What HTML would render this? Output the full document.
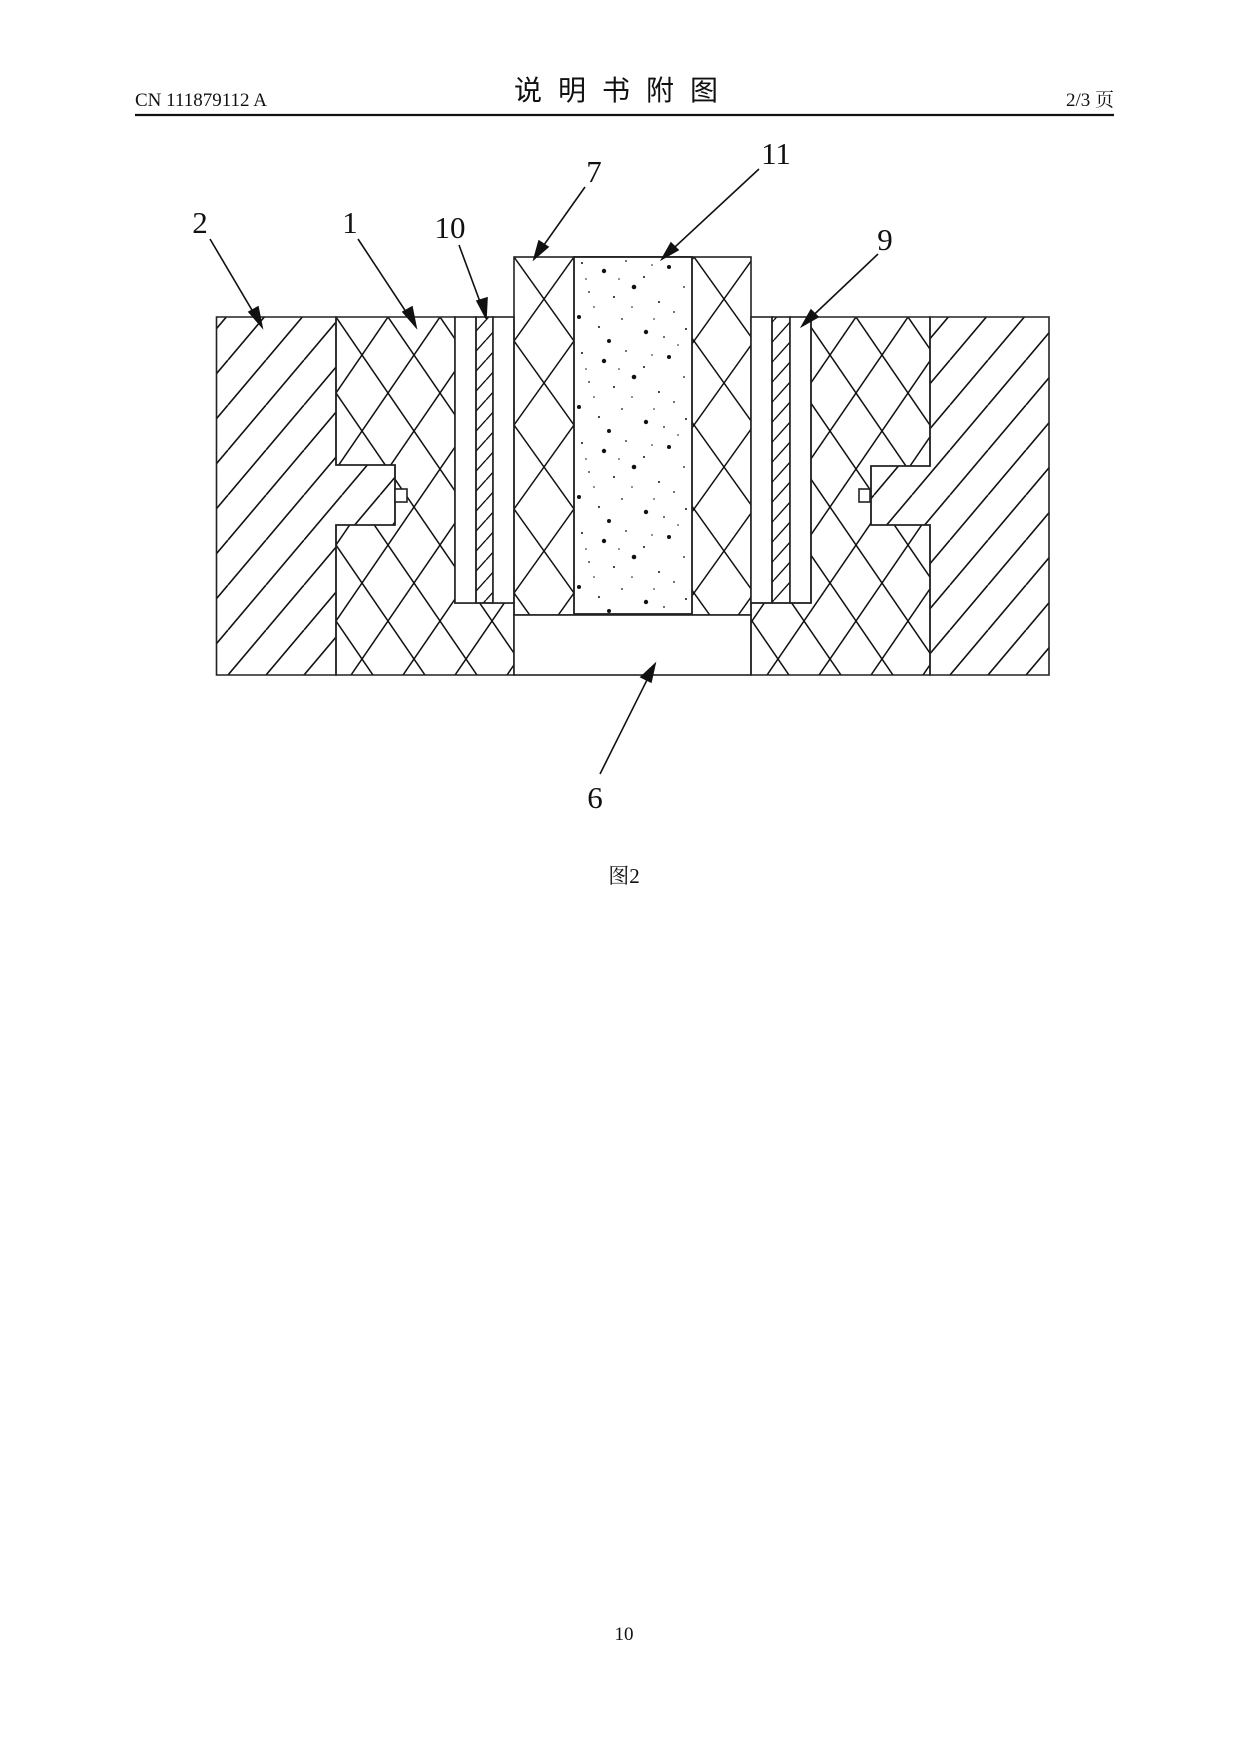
<!DOCTYPE html>
<html><head><meta charset="utf-8"><style>
html,body{margin:0;padding:0;background:#fff;}
svg{display:block;}
text{font-family:"Liberation Serif","Noto Serif CJK SC",serif;fill:#111;}
</style></head><body>
<svg width="1240" height="1754" viewBox="0 0 1240 1754" xmlns="http://www.w3.org/2000/svg">
<defs>
<pattern id="hs" patternUnits="userSpaceOnUse" width="38" height="45">
<line x1="-38" y1="45" x2="0" y2="0" stroke="#111" stroke-width="1.6"/>
<line x1="0" y1="45" x2="38" y2="0" stroke="#111" stroke-width="1.6"/>
<line x1="38" y1="45" x2="76" y2="0" stroke="#111" stroke-width="1.6"/>
</pattern>
<pattern id="cx" patternUnits="userSpaceOnUse" width="52" height="76" x="336" y="317">
<line x1="0" y1="76" x2="52" y2="0" stroke="#111" stroke-width="1.5"/>
<line x1="0" y1="0" x2="52" y2="76" stroke="#111" stroke-width="1.5"/>
</pattern>
<pattern id="cx7" patternUnits="userSpaceOnUse" width="60" height="84" x="514" y="257">
<line x1="0" y1="84" x2="60" y2="0" stroke="#111" stroke-width="1.5"/>
<line x1="0" y1="0" x2="60" y2="84" stroke="#111" stroke-width="1.5"/>
</pattern>
<pattern id="st" patternUnits="userSpaceOnUse" width="18" height="20">
<line x1="-18" y1="20" x2="0" y2="0" stroke="#111" stroke-width="1.4"/>
<line x1="0" y1="20" x2="18" y2="0" stroke="#111" stroke-width="1.4"/>
<line x1="18" y1="20" x2="36" y2="0" stroke="#111" stroke-width="1.4"/>
</pattern>
<pattern id="dots" patternUnits="userSpaceOnUse" width="118" height="90" x="574" y="257">
<g fill="#111">
<circle cx="8" cy="6" r="1"/><circle cx="30" cy="14" r="2.2"/><circle cx="52" cy="4" r="0.9"/><circle cx="70" cy="20" r="1"/><circle cx="95" cy="10" r="2"/><circle cx="110" cy="30" r="0.9"/>
<circle cx="15" cy="35" r="0.9"/><circle cx="40" cy="40" r="1"/><circle cx="60" cy="30" r="2.3"/><circle cx="85" cy="45" r="1"/><circle cx="100" cy="55" r="0.9"/>
<circle cx="5" cy="60" r="2"/><circle cx="25" cy="70" r="1"/><circle cx="48" cy="62" r="0.9"/><circle cx="72" cy="75" r="2.2"/><circle cx="90" cy="80" r="0.9"/><circle cx="112" cy="72" r="1"/>
<circle cx="20" cy="50" r="0.8"/><circle cx="35" cy="84" r="2"/><circle cx="58" cy="50" r="0.8"/><circle cx="80" cy="62" r="0.8"/><circle cx="104" cy="88" r="0.8"/><circle cx="12" cy="22" r="0.8"/><circle cx="45" cy="22" r="0.8"/><circle cx="78" cy="8" r="0.8"/>
</g>
</pattern>
</defs>

<!-- header -->
<text x="135" y="106" font-size="19">CN 111879112 A</text>
<text x="624" y="100" font-size="28" text-anchor="middle" letter-spacing="16" font-family="Noto Sans CJK SC, sans-serif" style="font-family:'Noto Sans CJK SC',sans-serif">说明书附图</text>
<text x="1114" y="106" font-size="19" text-anchor="end">2/3 页</text>
<line x1="135" y1="115" x2="1114" y2="115" stroke="#111" stroke-width="2.2"/>

<g stroke="#222" stroke-width="1.6">
<!-- left part 2 -->
<path d="M216.5,317H336V465H395V525H336V675H216.5Z" fill="url(#hs)"/>
<!-- left part 1 -->
<path d="M336,317H455V603H514V675H336V525H395V465H336Z" fill="url(#cx)"/>
<rect x="455" y="317" width="21" height="286" fill="#fff"/>
<rect x="476" y="317" width="17" height="286" fill="url(#st)"/>
<rect x="493" y="317" width="21" height="286" fill="#fff"/>
<!-- part 7 -->
<rect x="514" y="257" width="237" height="358" fill="url(#cx7)"/>
<rect x="574" y="257" width="118" height="357" fill="#fff"/>
<rect x="574" y="257" width="118" height="357" fill="url(#dots)"/>
<!-- part 6 -->
<rect x="514" y="615" width="237" height="60" fill="#fff"/>
<!-- right channel -->
<rect x="751" y="317" width="21" height="286" fill="#fff"/>
<rect x="772" y="317" width="18" height="286" fill="url(#st)"/>
<rect x="790" y="317" width="21" height="286" fill="#fff"/>
<!-- right part 1 -->
<path d="M811,317H930V466H871V525H930V675H751V603H811Z" fill="url(#cx)"/>
<!-- right part 2 -->
<path d="M930,317H1049V675H930V525H871V466H930Z" fill="url(#hs)"/>
<rect x="395" y="489" width="12" height="13" fill="#fff"/>
<rect x="859" y="489" width="11" height="13" fill="#fff"/>
</g>

<!-- leaders -->
<g stroke="#111" stroke-width="1.6" fill="#111">
<line x1="210" y1="239" x2="262" y2="327"/><polygon points="262,327 249,312 258,307"/>
<line x1="358" y1="239" x2="416" y2="327"/><polygon points="416,327 403,312 412,307"/>
<line x1="459" y1="245" x2="486" y2="318"/><polygon points="486,318 477,301 487,298"/>
<line x1="585" y1="187" x2="534" y2="259"/><polygon points="534,259 539,241 548,247"/>
<line x1="759" y1="169" x2="662" y2="259"/><polygon points="662,259 671,243 678,250"/>
<line x1="878" y1="254" x2="802" y2="326"/><polygon points="802,326 811,310 818,317"/>
<line x1="600" y1="774" x2="655" y2="664"/><polygon points="655,664 651,682 641,677"/>
</g>

<g font-size="31">
<text x="200" y="233" text-anchor="middle">2</text>
<text x="350" y="233" text-anchor="middle">1</text>
<text x="450" y="238" text-anchor="middle">10</text>
<text x="594" y="182" text-anchor="middle">7</text>
<text x="776" y="164" text-anchor="middle">11</text>
<text x="885" y="250" text-anchor="middle">9</text>
<text x="595" y="808" text-anchor="middle">6</text>
</g>
<text x="624" y="883" font-size="21" text-anchor="middle">图2</text>
<text x="624" y="1640" font-size="19" text-anchor="middle">10</text>
</svg>
</body></html>
